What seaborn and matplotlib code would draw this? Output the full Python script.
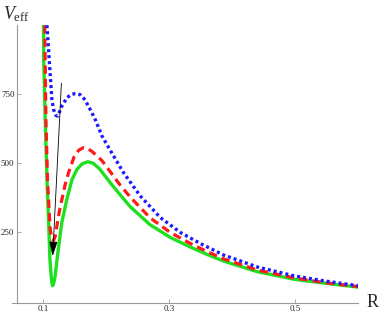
import matplotlib
matplotlib.use("Agg")
import matplotlib.pyplot as plt
import seaborn as sns

# values (R, V_eff)
green_r = [0.1010, 0.1013, 0.1037, 0.1065, 0.1095, 0.1111, 0.1129, 0.1140, 0.1153, 0.1165, 0.1180, 0.1195,
           0.1238, 0.1300, 0.1380, 0.1460, 0.1540, 0.1620, 0.1714, 0.1800, 0.1900, 0.2068, 0.2230, 0.2386,
           0.2700, 0.3020, 0.3340, 0.3630, 0.3870, 0.4400, 0.5000, 0.5450, 0.6000]
green_v = [1000, 875, 658, 442, 262, 154, 100, 72, 57, 62, 75, 93,
           178, 286, 370, 440, 478, 498, 506, 500, 480, 430, 385, 343,
           278, 232, 197, 168, 146, 108, 80, 67, 52]

red_r = [0.1029, 0.1048, 0.1073, 0.1095, 0.1116, 0.1140, 0.1168, 0.1195, 0.1222, 0.1260, 0.1302, 0.1350,
         0.1406, 0.1497, 0.1570, 0.1645, 0.1720, 0.1780, 0.1937, 0.2068, 0.2230, 0.2386, 0.2700, 0.3020,
         0.3340, 0.3630, 0.3870, 0.4400, 0.5000, 0.5450, 0.6000]
red_v = [1000, 658, 442, 345, 262, 230, 220, 235, 274, 325, 370, 420,
         466, 525, 548, 557, 552, 543, 510, 470, 420, 378, 303, 250,
         210, 178, 154, 114, 85, 69, 54]

blue_r = [0.1064, 0.1100, 0.1143, 0.1170, 0.1200, 0.1232, 0.1260, 0.1300, 0.1380, 0.1440, 0.1500, 0.1590,
          0.1650, 0.1724, 0.1830, 0.1937, 0.2100, 0.2280, 0.2545, 0.2862, 0.3180, 0.3497, 0.3870, 0.4400,
          0.5000, 0.5450, 0.6000]
blue_v = [1000, 875, 730, 695, 675, 671, 685, 707, 737, 748, 752, 749,
          735, 707, 659, 599, 535, 466, 382, 304, 250, 210, 168, 125,
          92, 75, 57]

arrow_start = (0.1296, 800)
arrow_end = (0.1153, 154)

x_ticks = [0.1, 0.3, 0.5]
x_tick_labels = ["0.1", "0.3", "0.5"]
y_ticks = [250, 500, 750]
y_tick_labels = ["250", "500", "750"]

sns.set_style("white")
plt.rcParams['font.family'] = ['Liberation Serif', 'DejaVu Serif']
plt.rcParams['mathtext.fontset'] = 'custom'
plt.rcParams['mathtext.rm'] = 'Liberation Serif'
plt.rcParams['mathtext.it'] = 'Liberation Serif:italic'

fig = plt.figure(figsize=(3.79, 3.17), dpi=100)
ax = fig.add_axes([0.0317, 0.0454, 0.913, 0.875])

sns.lineplot(x=green_r, y=green_v, ax=ax, color='#1ee01e', lw=2.4, estimator=None, sort=False)
sns.lineplot(x=red_r, y=red_v, ax=ax, color='#ff1a1a', lw=2.3, linestyle=(0, (2.6, 1.6)), estimator=None, sort=False)
sns.lineplot(x=blue_r, y=blue_v, ax=ax, color='#1a1aff', lw=2.4, linestyle=(0, (0.9, 0.9)), estimator=None, sort=False)

ax.annotate('', xy=arrow_end, xytext=arrow_start,
            arrowprops=dict(arrowstyle='-|>,head_length=0.9,head_width=0.25', color='black', lw=0.6))

ax.set_xlim(0.051, 0.6)
ax.set_ylim(-4, 1000)

for s in ['top', 'right']:
    ax.spines[s].set_visible(False)
ax.spines['left'].set_position(('data', 0.0592))
for s in ['left', 'bottom']:
    ax.spines[s].set_color('#999999')
    ax.spines[s].set_linewidth(0.8)

ax.set_xticks(x_ticks)
ax.set_xticklabels(x_tick_labels)
ax.set_yticks(y_ticks)
ax.set_yticklabels(y_tick_labels)
ax.tick_params(direction='in', length=3, width=0.6, color='#999999', labelsize=6.5, pad=2,
               bottom=True, left=True)

fig.text(0.008, 0.985, r'$V_{\rm eff}$', fontsize=13, va='top', ha='left')
fig.text(0.968, 0.045, 'R', fontsize=13, va='center', ha='left')

fig.savefig('out.png', dpi=100)
